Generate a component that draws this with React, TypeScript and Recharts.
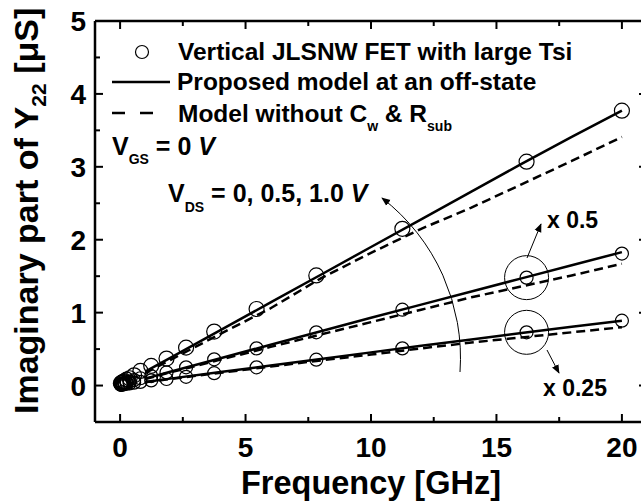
import React from 'react';
import { ComposedChart, Line, XAxis, YAxis, ReferenceLine, ReferenceDot } from 'recharts';

// measured points (GHz / uS), three curves: x1, x0.5, x0.25
const measFreq = [0.03, 0.05, 0.08, 0.12, 0.18, 0.26, 0.38, 0.56, 0.81, 1.24, 1.85, 2.63, 3.75, 5.44, 7.82, 11.25, 16.2, 20];
const measTop = [0.03, 0.035, 0.04, 0.05, 0.06, 0.08, 0.1, 0.14, 0.2, 0.27, 0.37, 0.52, 0.74, 1.05, 1.51, 2.15, 3.07, 3.77];
const measMid = [0.015, 0.02, 0.025, 0.03, 0.035, 0.045, 0.055, 0.075, 0.1, 0.13, 0.18, 0.25, 0.36, 0.51, 0.73, 1.04, 1.48, 1.81];
const measBot = [0.01, 0.01, 0.015, 0.015, 0.02, 0.025, 0.03, 0.04, 0.05, 0.07, 0.09, 0.12, 0.17, 0.25, 0.355, 0.51, 0.73, 0.89];

// model curves
const modelFreq = [1, 2, 4, 6, 8, 10, 12, 14, 16, 18, 20];
const solidTop = [0.19, 0.38, 0.76, 1.14, 1.52, 1.9, 2.28, 2.66, 3.04, 3.41, 3.77];
const dashTop = [0.17, 0.35, 0.71, 1.06, 1.47, 1.82, 2.15, 2.44, 2.76, 3.08, 3.41];
const solidMid = [0.095, 0.19, 0.375, 0.56, 0.745, 0.93, 1.11, 1.29, 1.47, 1.65, 1.83];
const dashMid = [0.09, 0.18, 0.355, 0.53, 0.7, 0.87, 1.04, 1.21, 1.36, 1.51, 1.67];
const solidBot = [0.05, 0.095, 0.185, 0.275, 0.365, 0.455, 0.545, 0.63, 0.72, 0.805, 0.89];
const dashBot = [0.045, 0.09, 0.175, 0.26, 0.345, 0.425, 0.51, 0.59, 0.66, 0.73, 0.8];

const xTicks = [0, 2.5, 5, 7.5, 10, 12.5, 15, 17.5, 20];
const yTicks = [0, 0.5, 1, 1.5, 2, 2.5, 3, 3.5, 4, 4.5, 5];

const zip = (f: number[], v: number[]) => f.map((x, i) => ({ f: x, v: v[i] }));

const FONT = '"Liberation Sans", Arial, Helvetica, sans-serif';
const PLOT_W = 552;
const PLOT_H = 401;

const BottomTick = (props: any) => {
  const { x, y, payload } = props;
  const major = payload.value % 5 === 0;
  const len = major ? 8 : 5;
  return (
    <g>
      <line x1={x} y1={y} x2={x} y2={y - len} stroke="#000" strokeWidth={2} />
      <line x1={x} y1={y - PLOT_H} x2={x} y2={y - PLOT_H + len} stroke="#000" strokeWidth={2} />
      {major && (
        <text x={x} y={y + 35} textAnchor="middle" fontFamily={FONT} fontWeight="bold" fontSize={28} fill="#000">
          {payload.value}
        </text>
      )}
    </g>
  );
};

const LeftTick = (props: any) => {
  const { x, y, payload } = props;
  const major = payload.value % 1 === 0;
  const len = major ? 8 : 5;
  return (
    <g>
      <line x1={x} y1={y} x2={x + len} y2={y} stroke="#000" strokeWidth={2} />
      <line x1={x + PLOT_W} y1={y} x2={x + PLOT_W - len} y2={y} stroke="#000" strokeWidth={2} />
      {major && (
        <text x={x - 9} y={y + 10} textAnchor="end" fontFamily={FONT} fontWeight="bold" fontSize={28} fill="#000">
          {payload.value}
        </text>
      )}
    </g>
  );
};

const bold = { fontFamily: FONT, fontWeight: 'bold' as const, fill: '#000' };

export default function App() {
  return (
    <div style={{ position: 'absolute', left: 0, top: 0, width: 641, height: 503, overflow: 'hidden', background: '#fff' }}>
      <ComposedChart width={700} height={503} margin={{ top: 21, right: 53, bottom: 51, left: 35 }}>
        <XAxis
          dataKey="f"
          type="number"
          domain={[-1, 21]}
          ticks={xTicks}
          interval={0}
          height={30}
          tickSize={0}
          tickMargin={0}
          tickLine={false}
          axisLine={{ stroke: '#000', strokeWidth: 2.5 }}
          tick={<BottomTick />}
          allowDataOverflow
        />
        <YAxis
          type="number"
          domain={[-0.5, 5]}
          ticks={yTicks}
          interval={0}
          width={60}
          tickSize={0}
          tickMargin={0}
          tickLine={false}
          axisLine={{ stroke: '#000', strokeWidth: 2.5 }}
          tick={<LeftTick />}
          allowDataOverflow
        />
        <ReferenceLine y={5} stroke="#000" strokeWidth={2.5} />
        <ReferenceLine x={21} stroke="#000" strokeWidth={2.5} />

        <Line data={zip(modelFreq, solidTop)} dataKey="v" stroke="#000" strokeWidth={2.5} dot={false} activeDot={false} isAnimationActive={false} />
        <Line data={zip(modelFreq, dashTop)} dataKey="v" stroke="#000" strokeWidth={2.5} strokeDasharray="9 5" dot={false} activeDot={false} isAnimationActive={false} />
        <Line data={zip(modelFreq, solidMid)} dataKey="v" stroke="#000" strokeWidth={2.5} dot={false} activeDot={false} isAnimationActive={false} />
        <Line data={zip(modelFreq, dashMid)} dataKey="v" stroke="#000" strokeWidth={2.5} strokeDasharray="9 5" dot={false} activeDot={false} isAnimationActive={false} />
        <Line data={zip(modelFreq, solidBot)} dataKey="v" stroke="#000" strokeWidth={2.5} dot={false} activeDot={false} isAnimationActive={false} />
        <Line data={zip(modelFreq, dashBot)} dataKey="v" stroke="#000" strokeWidth={2.5} strokeDasharray="9 5" dot={false} activeDot={false} isAnimationActive={false} />

        <Line data={zip(measFreq, measTop)} dataKey="v" stroke="none" dot={{ r: 7.5, fill: 'none', stroke: '#000', strokeWidth: 1.2 }} activeDot={false} isAnimationActive={false} />
        <Line data={zip(measFreq, measMid)} dataKey="v" stroke="none" dot={{ r: 6.5, fill: 'none', stroke: '#000', strokeWidth: 1.2 }} activeDot={false} isAnimationActive={false} />
        <Line data={zip(measFreq, measBot)} dataKey="v" stroke="none" dot={{ r: 6.5, fill: 'none', stroke: '#000', strokeWidth: 1.2 }} activeDot={false} isAnimationActive={false} />

        <ReferenceDot x={16.2} y={1.48} r={22} fill="none" stroke="#000" strokeWidth={1} />
        <ReferenceDot x={16.2} y={0.73} r={22} fill="none" stroke="#000" strokeWidth={1} />
      </ComposedChart>

      <svg width={641} height={503} style={{ position: 'absolute', left: 0, top: 0, pointerEvents: 'none' }}>
        <defs>
          <marker id="arr" viewBox="0 0 10 10" refX="9" refY="5" markerWidth="9" markerHeight="9" markerUnits="userSpaceOnUse" orient="auto">
            <path d="M0,1 L10,5 L0,9 Z" fill="#000" />
          </marker>
        </defs>

        {/* legend */}
        <circle cx={142} cy={52} r={6.5} fill="none" stroke="#000" strokeWidth={1.2} />
        <text x={178} y={60} fontSize={24.5} {...bold}>Vertical JLSNW FET with large Tsi</text>
        <line x1={112} y1={82} x2={170} y2={82} stroke="#000" strokeWidth={2.5} />
        <text x={177} y={90} fontSize={24.5} {...bold}>Proposed model at an off-state</text>
        <line x1={112} y1={113} x2={154} y2={113} stroke="#000" strokeWidth={2.5} strokeDasharray="13 15" />
        <text x={178} y={122} fontSize={24.5} {...bold}>
          Model without C<tspan fontSize={14} dy={9}>w</tspan>
          <tspan dy={-9}> &amp; R</tspan>
          <tspan fontSize={14} dy={9}>sub</tspan>
        </text>

        <text x={112} y={155} fontSize={25} {...bold}>
          V<tspan fontSize={14} dy={9}>GS</tspan>
          <tspan dy={-9}> = 0 </tspan>
          <tspan fontStyle="italic">V</tspan>
        </text>

        <text x={168} y={202} fontSize={25} {...bold}>
          V<tspan fontSize={14} dy={10}>DS</tspan>
          <tspan dy={-10}> = 0, 0.5, 1.0 </tspan>
          <tspan fontStyle="italic">V</tspan>
        </text>
        <path d="M 460 372 A 202 202 0 0 0 382 198" fill="none" stroke="#000" strokeWidth={1} markerEnd="url(#arr)" />

        {/* scale annotations */}
        <line x1={527} y1={258} x2={541} y2={224} stroke="#000" strokeWidth={1} markerEnd="url(#arr)" />
        <text x={547} y={228} fontSize={23} {...bold}>x 0.5</text>
        <line x1={547} y1={350} x2={559} y2={373} stroke="#000" strokeWidth={1} markerEnd="url(#arr)" />
        <text x={543} y={396} fontSize={23} {...bold}>x 0.25</text>

        {/* axis titles */}
        <text x={371} y={494} textAnchor="middle" fontSize={32.5} {...bold}>Frequency [GHz]</text>
        <text transform="translate(38 414) rotate(-90)" fontSize={34} {...bold}>
          Imaginary part of Y<tspan fontSize={21} dy={8}>22</tspan>
          <tspan dy={-8}> [μS]</tspan>
        </text>
      </svg>
    </div>
  );
}
